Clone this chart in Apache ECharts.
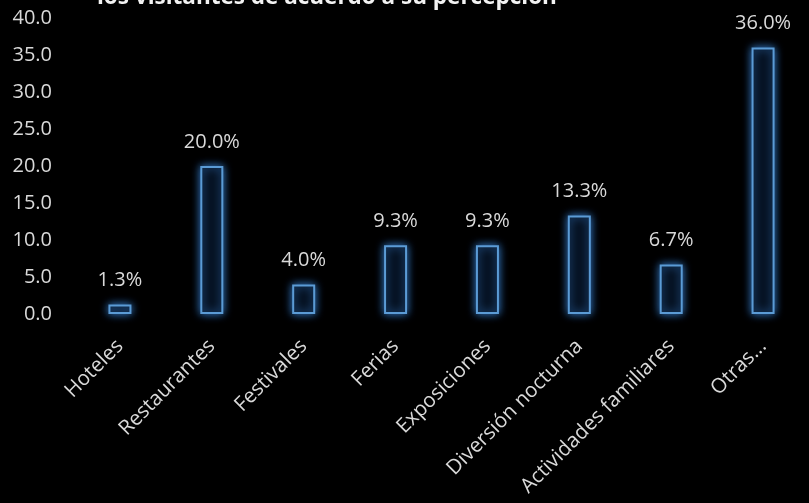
<!DOCTYPE html>
<html><head><meta charset="utf-8">
<script src="https://cdn.jsdelivr.net/npm/echarts@6/dist/echarts.min.js"></script>
<style>html,body{margin:0;padding:0;background:#000}#c{width:809px;height:503px}</style>
</head><body><div id="c"></div>
<script>
const titleText = 'los visitantes de acuerdo a su percepción';
const categories = ['Hoteles','Restaurantes','Festivales','Ferias','Exposiciones','Diversión nocturna','Actividades familiares','Otras...'];
const values = [1.3, 20.0, 4.0, 9.3, 9.3, 13.3, 6.7, 36.0];
const yTicks = {min: 0, max: 40, interval: 5};

const chart = echarts.init(document.getElementById('c'));
chart.setOption({
  backgroundColor: '#000',
  animation: false,
  title: {
    text: titleText, left: 92, top: -19,
    textStyle: {color: '#f2f2f2', fontFamily: 'Open Sans', fontWeight: 'bold', fontSize: 22.5}
  },
  grid: {left: 74, top: 18, width: 747, bottom: 189, containLabel: false},
  xAxis: {
    type: 'category', data: categories,
    axisLine: {show: false}, axisTick: {show: false},
    axisLabel: {rotate: 45, color: '#d9d9d9', fontFamily: 'Open Sans', fontSize: 20.5, margin: 29, interval: 0}
  },
  yAxis: {
    type: 'value', min: yTicks.min, max: yTicks.max, interval: yTicks.interval,
    splitLine: {show: false}, axisLine: {show: false}, axisTick: {show: false},
    axisLabel: {color: '#d9d9d9', fontFamily: 'Open Sans', fontSize: 20, margin: 22,
      formatter: v => v.toFixed(1)}
  },
  series: [{
    type: 'bar', data: values, barWidth: 23,
    itemStyle: {color: '#061222', borderColor: '#5b9bd5', borderWidth: 2,
      shadowColor: 'rgba(60,140,230,0.9)', shadowBlur: 8},
    label: {show: true, position: 'top', distance: 14, color: '#d9d9d9', fontFamily: 'Open Sans', fontSize: 20,
      formatter: p => p.value.toFixed(1) + '%'}
  }]
});
</script></body></html>
